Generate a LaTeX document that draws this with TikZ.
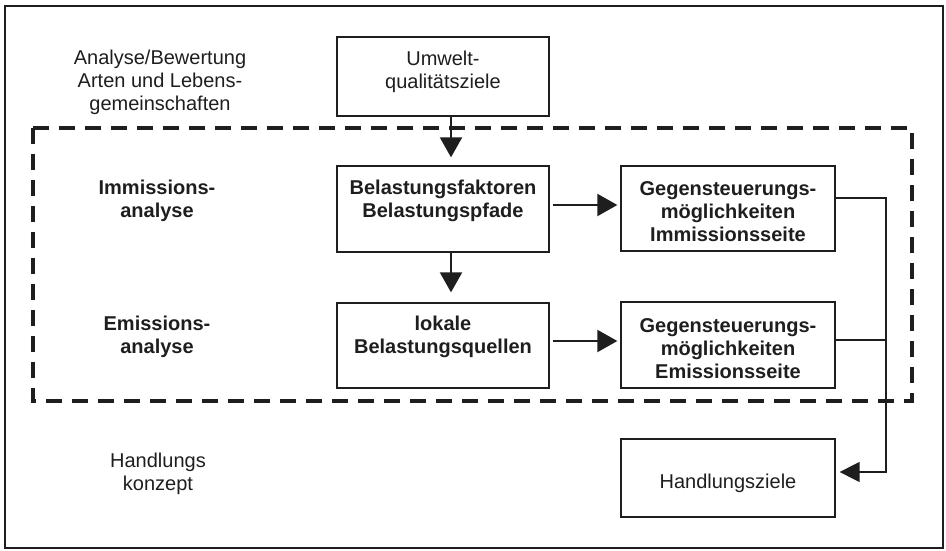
\documentclass[tikz,border=0pt]{standalone}
\usepackage{fontspec}
\setmainfont{Liberation Sans}
\usetikzlibrary{arrows.meta}
\definecolor{ink}{HTML}{1E1E1E}
\begin{document}
\begin{tikzpicture}[x=1pt,y=-1pt,
  every node/.style={text=ink,font=\fontsize{20}{23}\selectfont,align=center,inner sep=0pt},
  box/.style={draw=ink,line width=1.3pt,rectangle,minimum width=212pt},
  txt/.style={},
  btxt/.style={font=\fontsize{20}{23}\selectfont\bfseries},
  arr/.style={draw=ink,line width=2pt,-{Triangle[length=20pt,width=22pt]}},
  conn/.style={draw=ink,line width=1.5pt},
  carr/.style={conn,-{Triangle[length=20pt,width=20pt]}}]
\useasboundingbox (0,0) rectangle (946,551);
\draw[ink,line width=1.5pt] (5,6) rectangle (943,548);
\draw[ink,line width=4pt,dash pattern=on 16pt off 10pt] (33,128) rectangle (912,401);

% boxes
\node[box,minimum height=79pt] (umw) at (443,76.5) {};
\node[box,minimum height=86pt] (bel) at (443,209) {};
\node[box,minimum width=214pt,minimum height=85pt] (gi) at (728,208.5) {};
\node[box,minimum height=85pt] (lok) at (443,345.5) {};
\node[box,minimum width=214pt,minimum height=86pt] (ge) at (728,345) {};
\node[box,minimum width=214pt,minimum height=78pt] (hz) at (728,478) {};

% box texts
\node[txt] (umwT) at (443,72) {Umwelt-\\qualitätsziele};
\node[btxt] (belT) at (443,201) {Belastungsfaktoren\\Belastungspfade};
\node[btxt] (giT) at (728,212) {Gegensteuerungs-\\möglichkeiten\\Immissionsseite};
\node[btxt] (lokT) at (443,337) {lokale\\Belastungsquellen};
\node[btxt] (geT) at (728,349) {Gegensteuerungs-\\möglichkeiten\\Emissionsseite};
\node[txt] (hzT) at (728,483) {Handlungsziele};

% left labels
\node[txt] (l1) at (160,82) {Analyse/Bewertung\\Arten und Lebens-\\gemeinschaften};
\node[btxt] (l2) at (157,201) {Immissions-\\analyse};
\node[btxt] (l3) at (157,337) {Emissions-\\analyse};
\node[txt] (l4) at (158,474) {Handlungs\\konzept};

% arrows
\draw[arr,shorten >=8pt] ([xshift=8pt]umw.south) -- ([xshift=8pt]bel.north);
\draw[arr,shorten >=10pt] ([xshift=8pt]bel.south) -- ([xshift=8pt]lok.north);
\draw[arr,shorten <=3pt,shorten >=3pt] ([yshift=4pt]bel.east) -- ([yshift=3.5pt]gi.west);
\draw[arr,shorten <=3pt,shorten >=3pt] ([yshift=4.5pt]lok.east) -- ([yshift=4pt]ge.west);

% right connector
\coordinate (j1) at (886,198);
\coordinate (j2) at (886,472);
\coordinate (j3) at (886,340);
\draw[carr,shorten >=4pt] ([yshift=10.5pt]gi.east) -- (j1) -- (j2) -- ([yshift=6pt]hz.east);
\draw[conn] ([yshift=5pt]ge.east) -- (j3);
\end{tikzpicture}
\end{document}
